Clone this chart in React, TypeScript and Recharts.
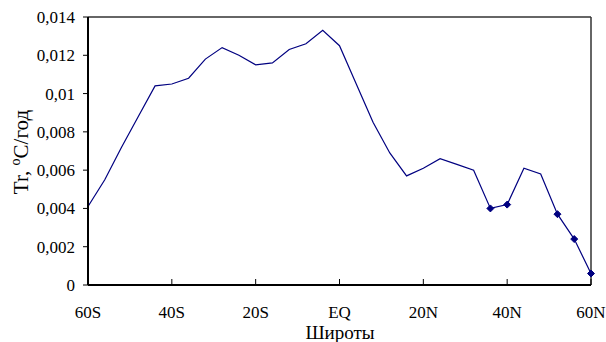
import React from 'react';
import { LineChart, Line, XAxis, YAxis, ReferenceLine } from 'recharts';

// latitude (negative = south) and temperature trend, °C/year
const latitudes = [-60, -56, -52, -48, -44, -40, -36, -32, -28, -24, -20, -16, -12, -8, -4, 0, 4, 8, 12, 16, 20, 24, 28, 32, 36, 40, 44, 48, 52, 56, 60];
const trend = [
  0.0041, 0.0055, 0.0072, 0.0088, 0.0104, 0.0105, 0.0108, 0.0118, 0.0124, 0.012, 0.0115,
  0.0116, 0.0123, 0.0126, 0.0133, 0.0125, 0.0105, 0.0085, 0.0069, 0.0057, 0.0061, 0.0066,
  0.0063, 0.006, 0.004, 0.0042, 0.0061, 0.0058, 0.0037, 0.0024, 0.0006,
];
const markedLatitudes = [36, 40, 52, 56, 60];

const xTicks = [-60, -40, -20, 0, 20, 40, 60];
const xTickLabels = ['60S', '40S', '20S', 'EQ', '20N', '40N', '60N'];
const yTicks = [0, 0.002, 0.004, 0.006, 0.008, 0.01, 0.012, 0.014];
const yTickLabels = ['0', '0,002', '0,004', '0,006', '0,008', '0,01', '0,012', '0,014'];

const data = latitudes.map((lat, i) => ({
  lat,
  tr: trend[i],
  marked: markedLatitudes.includes(lat),
}));

const FONT = '"Liberation Serif", "Times New Roman", serif';
const NAVY = '#000080';
const PLOT_BOTTOM = 285;

function XTick(props: any) {
  const { x, payload } = props;
  const idx = xTicks.indexOf(payload.value);
  return (
    <g>
      <line x1={x} y1={PLOT_BOTTOM} x2={x} y2={PLOT_BOTTOM - 6} stroke="#000" strokeWidth={1} />
      <text x={x} y={318} textAnchor="middle" fontFamily={FONT} fontSize={17} fill="#000">
        {xTickLabels[idx]}
      </text>
    </g>
  );
}

function yLabel(v: number) {
  const idx = yTicks.indexOf(v);
  return idx >= 0 ? yTickLabels[idx] : String(v);
}

function renderDot(props: any) {
  const { cx, cy, payload, index } = props;
  if (!payload.marked) return <g key={`d-${index}`} />;
  const r = 3.5;
  return (
    <path
      key={`d-${index}`}
      d={`M${cx},${cy - r} L${cx + r},${cy} L${cx},${cy + r} L${cx - r},${cy} Z`}
      fill={NAVY}
      stroke={NAVY}
      strokeWidth={1}
    />
  );
}

const renderYTitle = () => (
  <text
    x={28}
    y={152}
    transform="rotate(-90, 28, 152)"
    textAnchor="middle"
    fontFamily={FONT}
    fontSize={21}
    fill="#000"
  >
    Tr,{' '}
    <tspan dy={-8} fontSize={14}>o</tspan>
    <tspan dy={8}>C/год</tspan>
  </text>
);

const renderXTitle = () => (
  <text x={340} y={338.5} textAnchor="middle" fontFamily={FONT} fontSize={19} fill="#000">
    Широты
  </text>
);

export default function App() {
  return (
    <div style={{ position: 'absolute', left: 0, top: 0, width: 606, height: 342, background: '#fff' }}>
      <LineChart width={606} height={342} data={data} margin={{ top: 17, right: 15, bottom: 0, left: 0 }}>
        <XAxis
          dataKey="lat"
          type="number"
          domain={[-60, 60]}
          ticks={xTicks}
          tick={<XTick />}
          tickLine={false}
          tickSize={0}
          axisLine={{ stroke: '#000', strokeWidth: 2 }}
          height={57}
          interval={0}
          label={{ content: renderXTitle }}
        />
        <YAxis
          type="number"
          domain={[0, 0.014]}
          ticks={yTicks}
          tickFormatter={yLabel}
          tick={{ fill: '#000', fontFamily: FONT, fontSize: 17 }}
          tickLine={{ stroke: '#000' }}
          tickSize={5}
          tickMargin={8}
          axisLine={{ stroke: '#000', strokeWidth: 2 }}
          width={88}
          interval={0}
          label={{ content: renderYTitle }}
        />
        <ReferenceLine y={0.014} stroke="#333" strokeWidth={1.5} />
        <ReferenceLine x={60} stroke="#333" strokeWidth={1.5} />
        <Line
          type="linear"
          dataKey="tr"
          stroke={NAVY}
          strokeWidth={1.2}
          dot={renderDot}
          activeDot={false}
          isAnimationActive={false}
        />
      </LineChart>
    </div>
  );
}
